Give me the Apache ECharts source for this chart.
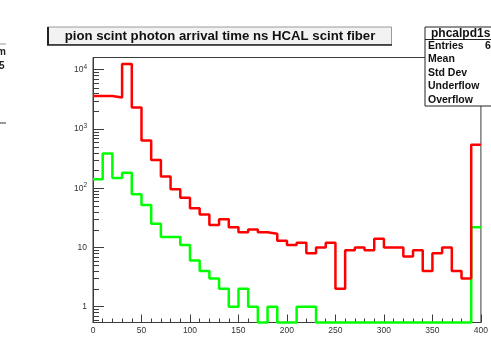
<!DOCTYPE html>
<html>
<head>
<meta charset="utf-8">
<script src="https://cdn.jsdelivr.net/npm/echarts@6.0.0/dist/echarts.min.js"></script>
<style>
  html, body { margin: 0; padding: 0; background: #fff; }
  #main { width: 491px; height: 347px; }
</style>
</head>
<body>
<div id="main"></div>
<script>
// bin low edges (ns), 10 ns wide bins
const binLow = [0, 10, 20, 30, 40, 50, 60, 70, 80, 90,
  100, 110, 120, 130, 140, 150, 160, 170, 180, 190,
  200, 210, 220, 230, 240, 250, 260, 270, 280, 290,
  300, 310, 320, 330, 340, 350, 360, 370, 380, 390]
const xMax = 400

// red histogram
const redCounts = [3600, 3600, 3400, 12500, 2300, 640, 300, 157, 96, 69,
  46, 36, 24, 30, 22, 18, 20, 18, 17, 13,
  11, 12, 8, 10, 12, 2, 9, 10, 9, 14,
  10, 10, 7, 9, 4, 8, 10, 4, 3, 540]

// green histogram
const greenCounts = [142, 385, 148, 182, 79, 52, 25, 15, 15, 11,
  6, 4, 3, 2, 1, 2, 1, 0, 1, 0,
  0, 1, 1, 0, 0, 0, 0, 0, 0, 0,
  0, 0, 0, 0, 0, 0, 0, 0, 0, 22]

const xTicks = [0, 50, 100, 150, 200, 250, 300, 350, 400]
const yMin = 0.54
const yMax = 16100
// log minor tick positions
const yMinorTicks = [0.6, 0.7, 0.8, 0.9,
  2, 3, 4, 5, 6, 7, 8, 9,
  20, 30, 40, 50, 60, 70, 80, 90,
  200, 300, 400, 500, 600, 700, 800, 900,
  2000, 3000, 4000, 5000, 6000, 7000, 8000, 9000]

const statLabels = ['Entries', 'Mean', 'Std Dev', 'Underflow', 'Overflow']

const FONT = 'Liberation Sans, Arial, Helvetica, sans-serif'
const AXIS = '#3c3c3c'

// plot frame
const gridL = 93
const gridT = 57.5
const gridR = 6
const gridB = 24.5
const H = 347

// histogram -> step line points (left edges + closing right edge)
function stepData(counts) {
  const pts = binLow.map((x, i) => [x, Math.max(counts[i], yMin)])
  pts.push([xMax, Math.max(counts[counts.length - 1], yMin)])
  return pts
}

function yLabel(v) {
  const l = Math.log10(v)
  const e = Math.round(l)
  if (Math.abs(l - e) > 1e-6) return ''
  if (e === 0) return '1'
  if (e === 1) return '10'
  return '10{sup|' + e + '}'
}

const statsTop = 27
const rowH = 13.5

const graphics = [
  // title box
  { type: 'rect', shape: { x: 47.5, y: 27, width: 344, height: 17.5 },
    style: { fill: '#f2f2f2', stroke: '#9a9a9a', lineWidth: 1 }, z: 10 },
  { type: 'line', shape: { x1: 48, y1: 27, x2: 48, y2: 45 },
    style: { stroke: '#222', lineWidth: 2 }, z: 11 },
  { type: 'line', shape: { x1: 47, y1: 45, x2: 392, y2: 45 },
    style: { stroke: '#222', lineWidth: 1.5 }, z: 11 },
  { type: 'text', x: 220, y: 36, z: 12,
    style: { text: 'pion scint photon arrival time ns HCAL scint fiber',
      font: 'bold 13.2px ' + FONT, fill: '#111', align: 'center', verticalAlign: 'middle' } },

  // stats box
  { type: 'rect', shape: { x: 425, y: statsTop, width: 80, height: 79 },
    style: { fill: '#fff', stroke: '#222', lineWidth: 1 }, z: 10 },
  { type: 'line', shape: { x1: 425, y1: 39.5, x2: 491, y2: 39.5 },
    style: { stroke: '#222', lineWidth: 1 }, z: 11 },
  { type: 'text', x: 431, y: 33.5, z: 12,
    style: { text: 'phcalpd1s', font: 'bold 12px ' + FONT, fill: '#111', verticalAlign: 'middle' } },
  { type: 'text', x: 485, y: 46, z: 12,
    style: { text: '6', font: 'bold 10.5px ' + FONT, fill: '#111', verticalAlign: 'middle' } },

  // fragment of neighbouring pad at the left edge
  { type: 'line', shape: { x1: 0, y1: 44, x2: 6, y2: 44 }, style: { stroke: '#999', lineWidth: 1 } },
  { type: 'text', x: -3, y: 52, style: { text: 'm', font: 'bold 10px ' + FONT, fill: '#222', verticalAlign: 'middle' } },
  { type: 'text', x: -1, y: 66, style: { text: '5', font: 'bold 10px ' + FONT, fill: '#222', verticalAlign: 'middle' } },
  { type: 'line', shape: { x1: 0, y1: 123, x2: 6, y2: 123 }, style: { stroke: '#333', lineWidth: 1 } }
]

statLabels.forEach((t, i) => {
  graphics.push({ type: 'text', x: 428, y: 46 + i * rowH, z: 12,
    style: { text: t, font: 'bold 10.5px ' + FONT, fill: '#111', verticalAlign: 'middle' } })
})

// minor log ticks on the left axis (axis decoration, same log mapping as the axis)
const logLo = Math.log10(yMin)
const logHi = Math.log10(yMax)
const plotH = H - gridT - gridB
yMinorTicks.forEach((v, i) => {
  const y = Math.round(gridT + (logHi - Math.log10(v)) / (logHi - logLo) * plotH) + 0.5
  graphics.push({
    type: 'line',
    id: 'minor' + i,
    shape: { x1: gridL, y1: y, x2: gridL + 6, y2: y },
    style: { stroke: AXIS, lineWidth: 1 },
    z: 20
  })
})

const chart = echarts.init(document.getElementById('main'), null, { renderer: 'canvas' })

const option = {
  animation: false,
  backgroundColor: '#fff',
  grid: {
    left: gridL, right: gridR, top: gridT, bottom: gridB,
    show: true, borderColor: AXIS, borderWidth: 1, backgroundColor: 'transparent'
  },
  xAxis: {
    type: 'value',
    min: 0,
    max: xMax,
    interval: 50,
    axisLine: { lineStyle: { color: AXIS, width: 1 } },
    axisTick: { inside: true, length: 8, lineStyle: { color: AXIS } },
    minorTick: { show: true, splitNumber: 5, length: 4, lineStyle: { color: AXIS } },
    splitLine: { show: false },
    axisLabel: {
      color: '#333', fontSize: 8.5, fontFamily: FONT, margin: 4,
      formatter: (v) => (xTicks.indexOf(v) >= 0 ? String(v) : '')
    }
  },
  yAxis: {
    type: 'log',
    logBase: 10,
    min: yMin,
    max: yMax,
    axisLine: { show: true, lineStyle: { color: AXIS, width: 1 } },
    axisTick: { show: true, inside: true, length: 11, lineStyle: { color: AXIS } },
    splitLine: { show: false },
    axisLabel: {
      color: '#333', fontSize: 8.5, fontFamily: FONT, margin: 6,
      formatter: yLabel,
      rich: { sup: { fontSize: 6.5, fontFamily: FONT, color: '#333', padding: [0, 0, 6, 0] } }
    }
  },
  graphic: { elements: graphics },
  series: [
    {
      type: 'line',
      name: 'green',
      step: 'end',
      data: stepData(greenCounts),
      showSymbol: false,
      clip: false,
      lineStyle: { color: '#00ff00', width: 2.5 },
      z: 3
    },
    {
      type: 'line',
      name: 'red',
      step: 'end',
      data: stepData(redCounts),
      showSymbol: false,
      clip: false,
      lineStyle: { color: '#ff0000', width: 2.5 },
      z: 4
    }
  ]
}

chart.setOption(option)
</script>
</body>
</html>
